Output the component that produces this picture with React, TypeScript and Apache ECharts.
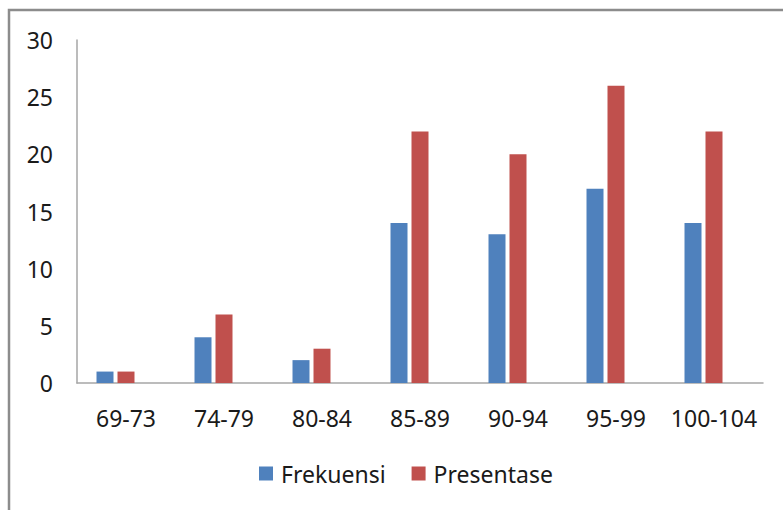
import React, { useEffect, useRef } from "react";
import * as echarts from "echarts";

const categories = ["69-73", "74-79", "80-84", "85-89", "90-94", "95-99", "100-104"];
const frekuensi = [1, 4, 2, 14, 13, 17, 14];
const presentase = [1, 6, 3, 22, 20, 26, 22];
const emptySlot = [null, null, null, null, null, null, null];
const yTicks = { min: 0, max: 30, interval: 5 };

const FONT = "Noto Sans";

export default function App() {
  const ref = useRef<HTMLDivElement>(null);
  useEffect(() => {
    if (!ref.current) return;
    const chart = echarts.init(ref.current, null, { renderer: "svg" });
    chart.setOption({
      animation: false,
      backgroundColor: "#ffffff",
      textStyle: { fontFamily: FONT },
      grid: { left: 77, right: 20, top: 40, bottom: 127, containLabel: false },
      graphic: [
        {
          type: "rect",
          shape: { x: 9, y: 10, width: 800, height: 520 },
          style: { fill: "none", stroke: "#8c8c8c", lineWidth: 2.5 },
          silent: true,
        },
      ],
      legend: {
        data: ["Frekuensi", "Presentase"],
        left: 254,
        top: 457,
        itemWidth: 14,
        itemHeight: 14,
        itemGap: 26,
        icon: "rect",
        textStyle: { fontFamily: FONT, fontSize: 23, color: "#1a1a1a", padding: [0, 0, 0, 3] },
      },
      xAxis: {
        type: "category",
        data: categories,
        axisLine: { lineStyle: { color: "#a6a6a6", width: 1.5 } },
        axisTick: { show: false },
        axisLabel: {
          fontFamily: FONT,
          fontSize: 23,
          color: "#1a1a1a",
          margin: 23,
          interval: 0,
          hideOverlap: false,
        },
        splitLine: { show: false },
      },
      yAxis: {
        type: "value",
        min: yTicks.min,
        max: yTicks.max,
        interval: yTicks.interval,
        axisLine: { show: true, lineStyle: { color: "#a6a6a6", width: 1.5 } },
        axisTick: { show: false },
        splitLine: { show: false },
        axisLabel: { fontFamily: FONT, fontSize: 23, color: "#1a1a1a", margin: 24 },
      },
      series: [
        {
          name: "Frekuensi",
          type: "bar",
          data: frekuensi,
          barWidth: 17,
          barGap: "23.5%",
          itemStyle: { color: "#4F81BD" },
        },
        {
          name: "Presentase",
          type: "bar",
          data: presentase,
          barWidth: 17,
          barGap: "23.5%",
          itemStyle: { color: "#C0504D" },
        },
        {
          name: "_empty",
          type: "bar",
          data: emptySlot,
          barWidth: 17,
          barGap: "23.5%",
          itemStyle: { color: "#9BBB59" },
        },
      ],
    });
    return () => chart.dispose();
  }, []);
  return (
    <div
      ref={ref}
      style={{ position: "fixed", left: 0, top: 0, width: 783, height: 510, background: "#fff" }}
    />
  );
}
